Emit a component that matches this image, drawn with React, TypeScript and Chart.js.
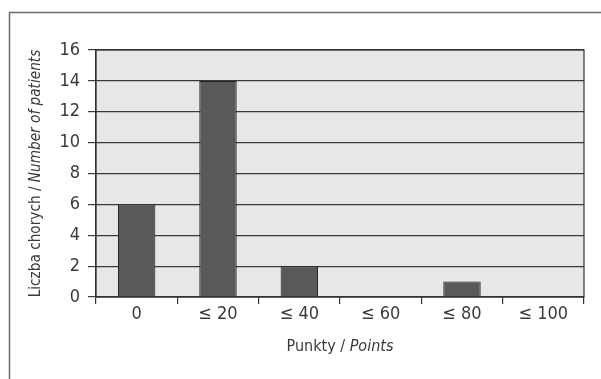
import React, { useEffect, useRef } from "react";
import { Chart, registerables } from "chart.js";

Chart.register(...registerables);

const categories = ["0", "≤ 20", "≤ 40", "≤ 60", "≤ 80", "≤ 100"];
const patientCounts = [6, 14, 2, 0, 1, 0];
const yTicks = [0, 2, 4, 6, 8, 10, 12, 14, 16];

const FONT = "'Liberation Sans Narrow', 'DejaVu Sans Condensed', 'Liberation Sans', sans-serif";
const TEXT = "#3a3a3a";

const decorPlugin = {
  id: "decor",
  beforeDraw(chart: any) {
    const { ctx, chartArea } = chart;
    const { left, top, right, bottom } = chartArea;
    ctx.save();
    ctx.strokeStyle = "#6d6e70";
    ctx.lineWidth = 1.5;
    ctx.beginPath();
    ctx.moveTo(9.5, chart.height + 5);
    ctx.lineTo(9.5, 12.5);
    ctx.lineTo(chart.width + 5, 12.5);
    ctx.stroke();
    ctx.fillStyle = "#e6e7e8";
    ctx.fillRect(left, top, right - left, bottom - top);
    ctx.restore();
  },
  afterDraw(chart: any) {
    const { ctx, chartArea } = chart;
    const { left, top, right, bottom } = chartArea;
    ctx.save();
    ctx.strokeStyle = "#333";
    ctx.lineWidth = 1.2;
    ctx.strokeRect(left, top, right - left, bottom - top);
    ctx.fillStyle = TEXT;
    ctx.textBaseline = "middle";
    ctx.textAlign = "left";
    // x title
    const xa = "Punkty / ";
    const xb = "Points";
    const reg = `16px ${FONT}`;
    const ita = `italic 16px ${FONT}`;
    ctx.font = reg;
    const wa = ctx.measureText(xa).width;
    ctx.font = ita;
    const wb = ctx.measureText(xb).width;
    const cx = (left + right) / 2;
    const x0 = cx - (wa + wb) / 2;
    ctx.font = reg;
    ctx.fillText(xa, x0, 347);
    ctx.font = ita;
    ctx.fillText(xb, x0 + wa, 347);
    // y title
    const ya = "Liczba chorych / ";
    const yb = "Number of patients";
    const yreg = `15.2px ${FONT}`;
    const yita = `italic 15.2px ${FONT}`;
    ctx.font = yreg;
    const ha = ctx.measureText(ya).width;
    ctx.font = yita;
    const hb = ctx.measureText(yb).width;
    const cy = (top + bottom) / 2;
    ctx.translate(36, cy);
    ctx.rotate(-Math.PI / 2);
    const s0 = -(ha + hb) / 2;
    ctx.font = yreg;
    ctx.fillText(ya, s0, 0);
    ctx.font = yita;
    ctx.fillText(yb, s0 + ha, 0);
    ctx.restore();
  },
};

export default function App() {
  const ref = useRef<HTMLCanvasElement | null>(null);
  useEffect(() => {
    if (!ref.current) return;
    const chart = new Chart(ref.current, {
      type: "bar",
      data: {
        labels: categories,
        datasets: [
          {
            data: patientCounts,
            backgroundColor: "#58595b",
            borderColor: "#231f20",
            borderWidth: 1,
            barPercentage: 0.46,
            categoryPercentage: 1,
          },
        ],
      },
      options: {
        animation: false,
        responsive: false,
        maintainAspectRatio: false,
        layout: { padding: { left: 0, right: 17, top: 50, bottom: 0 } },
        plugins: { legend: { display: false }, tooltip: { enabled: false } },
        scales: {
          x: {
            offset: true,
            grid: {
              offset: true,
              drawOnChartArea: false,
              drawTicks: true,
              tickLength: 7,
              color: "#333",
              lineWidth: 1.2,
            },
            border: { display: true, color: "#333", width: 1.2 },
            ticks: { color: TEXT, font: { family: FONT, size: 18 }, padding: 0, maxRotation: 0 },
            afterFit(scale: any) {
              scale.height = 82;
            },
          },
          y: {
            min: 0,
            max: 16,
            afterBuildTicks(scale: any) {
              scale.ticks = yTicks.map((v) => ({ value: v }));
            },
            grid: {
              color: "#3a3a3a",
              lineWidth: 1.2,
              tickLength: 8,
              drawTicks: true,
            },
            border: { display: true, color: "#333", width: 1.2 },
            ticks: { color: TEXT, font: { family: FONT, size: 18 }, padding: 8 },
            afterFit(scale: any) {
              scale.width = 96;
            },
          },
        },
      },
      plugins: [decorPlugin],
    });
    return () => chart.destroy();
  }, []);
  return (
    <div style={{ position: "absolute", left: 0, top: 0, width: 601, height: 379, background: "#fff" }}>
      <canvas ref={ref} width={601} height={379} style={{ display: "block", width: 601, height: 379 }} />
    </div>
  );
}
